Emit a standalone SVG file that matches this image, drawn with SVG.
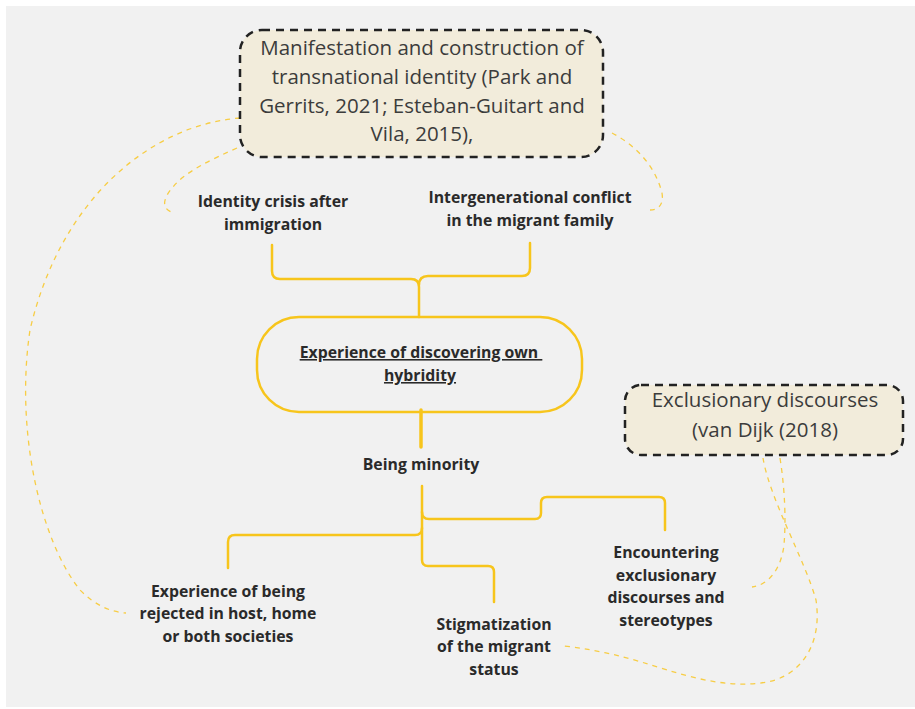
<svg xmlns="http://www.w3.org/2000/svg" width="915" height="709" viewBox="0 0 915 709">
<style>
.bg{fill:#f1f1f1}
.ref{fill:#f2ecdb;stroke:#222;stroke-width:2.5;stroke-dasharray:8 6}
.ref-t{font-family:"Open Sans",sans-serif;font-size:20.5px;font-weight:400;fill:#3c3c3c;text-anchor:middle}
.lbl{font-family:"Open Sans",sans-serif;font-size:15.8px;font-weight:700;fill:#2a2a2a;text-anchor:middle}
.solid{fill:none;stroke:#f7c51c;stroke-width:2.5;stroke-linecap:round;stroke-linejoin:round}
.dash{fill:none;stroke:#f7cd45;stroke-width:1.3;stroke-dasharray:5 5}
.core{fill:none;stroke:#f7c51c;stroke-width:2.5}
</style>
<rect class="bg" x="6" y="6" width="909" height="701"/>
<g id="connectors">
<path class="solid" d="M272 245 V271 Q272 279 280 279 H411 Q419 279 419 287 V317"/>
<path class="solid" d="M530 243 V268 Q530 276 522 276 H428 Q419 276 419 285"/>
<path class="solid" style="stroke-width:3.5" d="M421 410 V447"/>
<path class="solid" d="M422 486 V560 Q422 566 428 566 H488 Q494 566 494 572 V602"/>
<path class="solid" d="M422 512 Q422 519 429 519 H535 Q541 519 541 513 V503 Q541 497 547 497 H659 Q665 497 665 503 V530"/>
<path class="solid" d="M422 528 Q422 535 415 535 H235 Q228 535 228 542 V568"/>
<path class="dash" d="M240 118 C150 125 60 200 30 330 C15 430 40 540 80 590 C95 605 110 612 126 613"/>
<path class="dash" d="M237 148 C210 160 185 172 173 187 C163 198 160 210 175 213"/>
<path class="dash" d="M612 133 C635 145 655 165 662 193 C664 205 658 210 650 210"/>
<path class="dash" d="M780 458 C785 490 786 520 784 545 C781 570 768 585 752 587"/>
<path class="dash" d="M763 458 C770 500 805 560 816 600 C822 640 805 670 775 680 C740 690 700 680 667 670 C630 658 600 650 564 646"/>
</g>
<g id="node-transnational">
<rect class="ref" x="240" y="30" width="363" height="127" rx="22"/>
<text class="ref-t" x="422" y="55">Manifestation and construction of</text>
<text class="ref-t" x="422" y="84">transnational identity (Park and</text>
<text class="ref-t" x="422" y="113">Gerrits, 2021; Esteban-Guitart and</text>
<text class="ref-t" x="422" y="141">Vila, 2015),</text>
</g>
<g id="node-identity-crisis">
<text class="lbl" x="273" y="207">Identity crisis after</text>
<text class="lbl" x="273" y="230">immigration</text>
</g>
<g id="node-intergenerational">
<text class="lbl" x="530" y="203">Intergenerational conflict</text>
<text class="lbl" x="530" y="226">in the migrant family</text>
</g>
<g id="node-hybridity">
<rect class="core" x="257" y="317" width="325" height="95" rx="42"/>
<text class="lbl" x="421" y="358" text-decoration="underline" style="white-space:pre">Experience of discovering own </text>
<text class="lbl" x="420" y="381" text-decoration="underline">hybridity</text>
</g>
<g id="node-minority">
<text class="lbl" x="421" y="470">Being minority</text>
</g>
<g id="node-exclusionary-ref">
<rect class="ref" x="625" y="385" width="278" height="70" rx="16"/>
<text class="ref-t" x="765" y="407">Exclusionary discourses</text>
<text class="ref-t" x="765" y="437">(van Dijk (2018)</text>
</g>
<g id="node-rejected">
<text class="lbl" x="228" y="597">Experience of being</text>
<text class="lbl" x="228" y="619">rejected in host, home</text>
<text class="lbl" x="228" y="642">or both societies</text>
</g>
<g id="node-stigmatization">
<text class="lbl" x="494" y="630">Stigmatization</text>
<text class="lbl" x="494" y="652">of the migrant</text>
<text class="lbl" x="494" y="675">status</text>
</g>
<g id="node-encountering">
<text class="lbl" x="666" y="558">Encountering</text>
<text class="lbl" x="666" y="581">exclusionary</text>
<text class="lbl" x="666" y="603">discourses and</text>
<text class="lbl" x="666" y="626">stereotypes</text>
</g>
</svg>
